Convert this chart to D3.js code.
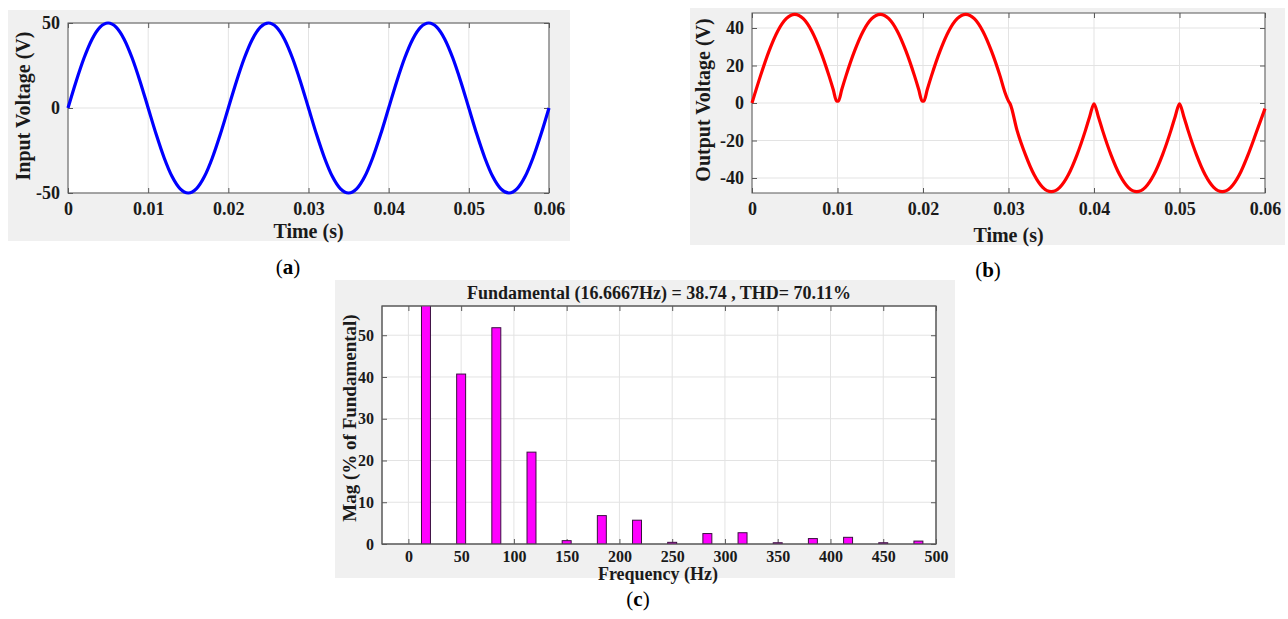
<!doctype html>
<html lang="en">
<head>
<meta charset="utf-8">
<title>Rectifier waveforms and FFT</title>
<script src="https://cdn.jsdelivr.net/npm/d3@7/dist/d3.min.js"></script>
<style>
    body { margin: 0; background: #fff; }
    text { font-family: "Liberation Serif", "Times New Roman", serif; fill: #1a1a1a; }
    .tick-lbl { font-weight: bold; }
    .ax-lbl { font-weight: bold; font-size: 20px; }
</style>
</head>
<body>
<svg id="fig" width="1288" height="619"></svg>

<script>
    // ---- data ----
    // (a) input voltage, sampled every 1 ms
    const inputT = [0, 0.001, 0.002, 0.003, 0.004, 0.005, 0.006, 0.007, 0.008, 0.009,
        0.010, 0.011, 0.012, 0.013, 0.014, 0.015, 0.016, 0.017, 0.018, 0.019,
        0.020, 0.021, 0.022, 0.023, 0.024, 0.025, 0.026, 0.027, 0.028, 0.029,
        0.030, 0.031, 0.032, 0.033, 0.034, 0.035, 0.036, 0.037, 0.038, 0.039,
        0.040, 0.041, 0.042, 0.043, 0.044, 0.045, 0.046, 0.047, 0.048, 0.049,
        0.050, 0.051, 0.052, 0.053, 0.054, 0.055, 0.056, 0.057, 0.058, 0.059, 0.060];
    const inputV = [0, 15.5, 29.4, 40.5, 47.6, 50, 47.6, 40.5, 29.4, 15.5,
        0, -15.5, -29.4, -40.5, -47.6, -50, -47.6, -40.5, -29.4, -15.5,
        0, 15.5, 29.4, 40.5, 47.6, 50, 47.6, 40.5, 29.4, 15.5,
        0, -15.5, -29.4, -40.5, -47.6, -50, -47.6, -40.5, -29.4, -15.5,
        0, 15.5, 29.4, 40.5, 47.6, 50, 47.6, 40.5, 29.4, 15.5,
        0, -15.5, -29.4, -40.5, -47.6, -50, -47.6, -40.5, -29.4, -15.5, 0];

    // (b) output voltage (extra points near the cusps)
    const outputT = [0, 0.001, 0.002, 0.003, 0.004, 0.005, 0.006, 0.007, 0.008, 0.009,
        0.0095, 0.0099, 0.0101, 0.0105,
        0.011, 0.012, 0.013, 0.014, 0.015, 0.016, 0.017, 0.018, 0.019,
        0.0195, 0.0199, 0.0201, 0.0205,
        0.021, 0.022, 0.023, 0.024, 0.025, 0.026, 0.027, 0.028, 0.029,
        0.0296, 0.0300, 0.0302,
        0.031, 0.032, 0.033, 0.034, 0.035, 0.036, 0.037, 0.038, 0.039,
        0.0395, 0.040, 0.0405,
        0.041, 0.042, 0.043, 0.044, 0.045, 0.046, 0.047, 0.048, 0.049,
        0.0495, 0.050, 0.0505,
        0.051, 0.052, 0.053, 0.054, 0.055, 0.056, 0.057, 0.058, 0.059, 0.060];
    const outputV = [0, 14.6, 27.8, 38.3, 45.0, 47.3, 45.0, 38.3, 27.8, 14.6,
        7.2, 1.0, 1.0, 7.2,
        14.6, 27.8, 38.3, 45.0, 47.3, 45.0, 38.3, 27.8, 14.6,
        7.2, 1.0, 1.0, 7.2,
        14.6, 27.8, 38.3, 45.0, 47.3, 45.0, 38.3, 27.8, 14.6,
        5.5, 1.0, -0.5,
        -14.6, -27.8, -38.3, -45.0, -47.3, -45.0, -38.3, -27.8, -14.6,
        -7.2, -0.4, -7.2,
        -14.6, -27.8, -38.3, -45.0, -47.3, -45.0, -38.3, -27.8, -14.6,
        -7.2, -0.4, -7.2,
        -14.6, -27.8, -38.3, -45.0, -47.3, -45.0, -38.3, -27.8, -15.5, -3.0];

    const timeTicks = [0, 0.01, 0.02, 0.03, 0.04, 0.05, 0.06];
    const inputTicks = [-50, 0, 50];
    const outputTicks = [-40, -20, 0, 20, 40];

    // (c) FFT harmonics, % of fundamental
    const harmFreq = [16.67, 50, 83.33, 116.67, 150, 183.33, 216.67, 250, 283.33, 316.67, 350, 383.33, 416.67, 450, 483.33];
    const harmMag = [100, 40.7, 51.8, 22.0, 0.8, 6.8, 5.7, 0.4, 2.5, 2.7, 0.3, 1.3, 1.6, 0.3, 0.7];
    const freqTicks = [0, 50, 100, 150, 200, 250, 300, 350, 400, 450, 500];
    const magTicks = [0, 10, 20, 30, 40, 50];
    const fftTitle = "Fundamental (16.6667Hz) = 38.74 , THD= 70.11%";

    const svg = d3.select("#fig");
    const boxColor = "#595959", gridColor = "#e3e3e3";

    // draws white axes box + grid + ticks on all four sides
    function axesBox(g, x, y, xt, yt, fmtX, fmtY, tickSize, padX) {
        const [x0, x1] = x.range(), [y1, y0] = y.range();
        g.append("rect").attr("x", x0).attr("y", y0)
            .attr("width", x1 - x0).attr("height", y1 - y0).attr("fill", "#fff");
        g.append("g").selectAll("line").data(xt).join("line")
            .attr("x1", d => x(d)).attr("x2", d => x(d)).attr("y1", y0).attr("y2", y1)
            .attr("stroke", gridColor);
        g.append("g").selectAll("line").data(yt).join("line")
            .attr("y1", d => y(d)).attr("y2", d => y(d)).attr("x1", x0).attr("x2", x1)
            .attr("stroke", gridColor);

        const axB = g.append("g").attr("transform", `translate(0,${y1})`)
            .call(d3.axisBottom(x).tickValues(xt).tickFormat(fmtX).tickSizeInner(-tickSize).tickSizeOuter(0).tickPadding(padX));
        const axL = g.append("g").attr("transform", `translate(${x0},0)`)
            .call(d3.axisLeft(y).tickValues(yt).tickFormat(fmtY).tickSizeInner(-tickSize).tickSizeOuter(0).tickPadding(8));
        g.append("g").attr("transform", `translate(0,${y0})`)
            .call(d3.axisTop(x).tickValues(xt).tickFormat("").tickSizeInner(-tickSize).tickSizeOuter(0));
        g.append("g").attr("transform", `translate(${x1},0)`)
            .call(d3.axisRight(y).tickValues(yt).tickFormat("").tickSizeInner(-tickSize).tickSizeOuter(0));
        g.selectAll(".domain").remove();
        g.selectAll(".tick line").attr("stroke", boxColor);
        g.append("rect").attr("x", x0).attr("y", y0)
            .attr("width", x1 - x0).attr("height", y1 - y0)
            .attr("fill", "none").attr("stroke", boxColor);
        return [axB, axL];
    }

    function linePanel(opt) {
        const g = svg.append("g");
        g.append("rect").attr("x", opt.bg[0]).attr("y", opt.bg[1])
            .attr("width", opt.bg[2]).attr("height", opt.bg[3]).attr("fill", "#f0f0f0");
        const x = d3.scaleLinear().domain([0, 0.06]).range([opt.box[0], opt.box[1]]);
        const y = d3.scaleLinear().domain(opt.yDom).range([opt.box[3], opt.box[2]]);
        const fmtT = d => d === 0 ? "0" : d3.format(".2f")(d);
        const [axB, axL] = axesBox(g, x, y, timeTicks, opt.yTicks, fmtT, d => d, 5, 8);
        axB.selectAll("text").attr("class", "tick-lbl").style("font-size", "18px").attr("dy", "0.8em");
        axL.selectAll("text").attr("class", "tick-lbl").style("font-size", "18px");
        g.selectAll(".tick text").attr("fill", "#1a1a1a");

        const line = d3.line().x(d => x(d[0])).y(d => y(d[1])).curve(d3.curveMonotoneX);
        g.append("path").datum(d3.zip(opt.t, opt.v))
            .attr("d", line).attr("fill", "none")
            .attr("stroke", opt.color).attr("stroke-width", 3.2)
            .attr("stroke-linejoin", "round");

        g.append("text").attr("class", "ax-lbl").attr("text-anchor", "middle")
            .attr("x", (opt.box[0] + opt.box[1]) / 2).attr("y", opt.xLblY).text("Time (s)");
        g.append("text").attr("class", "ax-lbl").attr("text-anchor", "middle")
            .attr("transform", `translate(${opt.yLblX},${opt.yLblC}) rotate(-90)`)
            .attr("dy", "0.35em").text(opt.yLabel);
    }

    linePanel({ bg: [8, 10, 562, 231], box: [68, 549, 23, 193], yDom: [-50, 50],
        yTicks: inputTicks, t: inputT, v: inputV, color: "#0000ff",
        xLblY: 238, yLblX: 23, yLblC: 106, yLabel: "Input Voltage (V)" });

    linePanel({ bg: [690, 8, 595, 237], box: [752, 1265, 13, 193], yDom: [-48, 48],
        yTicks: outputTicks, t: outputT, v: outputV, color: "#ff0000",
        xLblY: 242, yLblX: 703, yLblC: 100, yLabel: "Output Voltage (V)" });

    // ---- (c) FFT bar chart ----
    const gc = svg.append("g");
    gc.append("rect").attr("x", 335).attr("y", 280).attr("width", 620).attr("height", 298).attr("fill", "#f0f0f0");
    const xc = d3.scaleLinear().domain([-25, 500]).range([382, 936]);
    const yc = d3.scaleLinear().domain([0, 57]).range([544, 306]);

    // minor dotted grid
    gc.append("rect").attr("x", 382).attr("y", 306).attr("width", 554).attr("height", 238).attr("fill", "#fff");
    const minorX = d3.range(-20, 500, 10).filter(d => d % 50 !== 0);
    const minorY = d3.range(2, 57, 2).filter(d => d % 10 !== 0);
    gc.append("g").selectAll("line").data(minorX).join("line")
        .attr("x1", d => xc(d)).attr("x2", d => xc(d)).attr("y1", 306).attr("y2", 544)
        .attr("stroke", "#dcdcdc").attr("stroke-dasharray", "1,2");
    gc.append("g").selectAll("line").data(minorY).join("line")
        .attr("y1", d => yc(d)).attr("y2", d => yc(d)).attr("x1", 382).attr("x2", 936)
        .attr("stroke", "#dcdcdc").attr("stroke-dasharray", "1,2");

    const [cB, cL] = axesBox(gc, xc, yc, freqTicks, magTicks, d => d, d => d, 5, 8);
    gc.select("rect").lower();
    cB.selectAll("text").attr("class", "tick-lbl").style("font-size", "16px").attr("dy", "0.7em").attr("y", 7);
    cL.selectAll("text").attr("class", "tick-lbl").style("font-size", "16px");

    gc.append("clipPath").attr("id", "clipc").append("rect")
        .attr("x", 382).attr("y", 306).attr("width", 554).attr("height", 238);
    gc.append("g").attr("clip-path", "url(#clipc)")
        .selectAll("rect").data(d3.zip(harmFreq, harmMag)).join("rect")
        .attr("x", d => xc(d[0] - 4.25))
        .attr("width", d => xc(d[0] + 4.25) - xc(d[0] - 4.25))
        .attr("y", d => yc(d[1]))
        .attr("height", d => yc(0) - yc(d[1]))
        .attr("fill", "#ff00ff").attr("stroke", "#3a1040").attr("stroke-width", 1);
    // redraw box edge over bars
    gc.append("rect").attr("x", 382).attr("y", 306).attr("width", 554).attr("height", 238)
        .attr("fill", "none").attr("stroke", boxColor);

    gc.append("text").attr("text-anchor", "middle").style("font-weight", "bold").style("font-size", "18px")
        .attr("x", 659).attr("y", 299).text(fftTitle);
    gc.append("text").attr("class", "ax-lbl").attr("text-anchor", "middle").style("font-size", "18px")
        .attr("x", 658).attr("y", 580).text("Frequency (Hz)");
    gc.append("text").attr("class", "ax-lbl").attr("text-anchor", "middle").style("font-size", "19px")
        .attr("transform", "translate(349,418) rotate(-90)").attr("dy", "0.35em")
        .text("Mag (% of Fundamental)");

    // ---- sub-figure captions ----
    const caps = [["(", "a", ")", 288, 274], ["(", "b", ")", 988, 277], ["(", "c", ")", 638, 606]];
    caps.forEach(c => {
        const t = svg.append("text").attr("text-anchor", "middle").attr("x", c[3]).attr("y", c[4])
            .style("font-size", "21px").style("fill", "#000");
        t.append("tspan").text(c[0]);
        t.append("tspan").style("font-weight", "bold").text(c[1]);
        t.append("tspan").text(c[2]);
    });
</script>
</body>
</html>
